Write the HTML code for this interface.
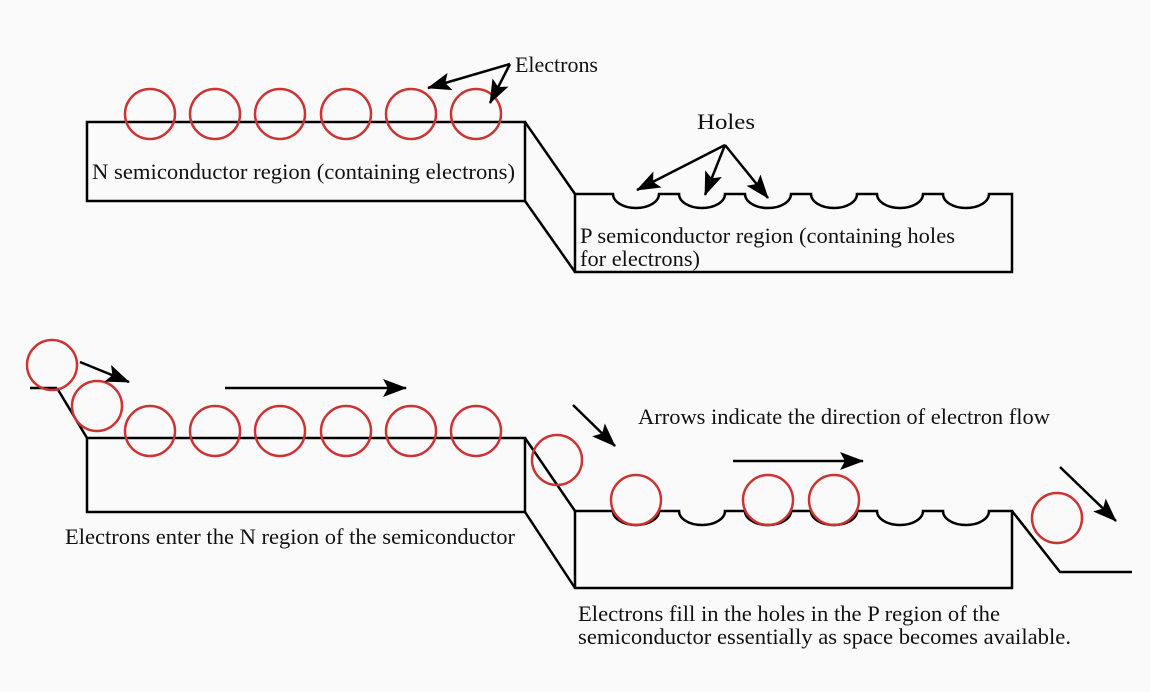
<!DOCTYPE html>
<html><head><style>
body{margin:0;background:#fafafa;}
svg{display:block}
text{font-family:"Liberation Serif",serif;font-size:22px;fill:#111}
</style></head><body>
<svg width="1150" height="692" viewBox="0 0 1150 692">
<defs>
<marker id="b" markerWidth="24" markerHeight="18" refX="23" refY="9" orient="auto" markerUnits="userSpaceOnUse"><path d="M0,0 L24,9 L0,18 L5,9 z" fill="#000"/></marker></defs>
<rect width="1150" height="692" fill="#fafafa"/>
<g fill="none" stroke="#000" stroke-width="2.5">
<rect x="87" y="122" width="438" height="79"/>
<line x1="525" y1="122" x2="575" y2="194"/>
<line x1="525" y1="201" x2="575" y2="272"/>
<path d="M575,272 V194 H613 a23,14 0 0 0 46,0 H679 a23,14 0 0 0 46,0 H745 a23,14 0 0 0 46,0 H811 a23,14 0 0 0 46,0 H877 a23,14 0 0 0 46,0 H943 a23,14 0 0 0 46,0 H1012 V272 Z"/>
<line x1="30" y1="388" x2="57" y2="388"/>
<line x1="57" y1="388" x2="87" y2="438"/>
<rect x="87" y="438" width="438" height="74"/>
<line x1="525" y1="438" x2="575" y2="511"/>
<line x1="525" y1="512" x2="575" y2="588"/>
<path d="M575,588 V511 H613 a23,14 0 0 0 46,0 H679 a23,14 0 0 0 46,0 H745 a23,14 0 0 0 46,0 H811 a23,14 0 0 0 46,0 H877 a23,14 0 0 0 46,0 H943 a23,14 0 0 0 46,0 H1012 V588 Z"/>
<polyline points="1012,511 1060,572 1132,572"/>
</g>
<g fill="none" stroke="#cc3333" stroke-width="2.5">
<circle cx="150" cy="114" r="25"/><circle cx="215" cy="114" r="25"/><circle cx="280" cy="114" r="25"/><circle cx="346" cy="114" r="25"/><circle cx="411" cy="114" r="25"/><circle cx="476" cy="114" r="25"/>
<circle cx="52" cy="365" r="25"/><circle cx="97" cy="406" r="25"/>
<circle cx="150" cy="431" r="25"/><circle cx="215" cy="431" r="25"/><circle cx="280" cy="431" r="25"/><circle cx="346" cy="431" r="25"/><circle cx="411" cy="431" r="25"/><circle cx="476" cy="431" r="25"/>
<circle cx="557" cy="460" r="25"/><circle cx="636" cy="500" r="25"/><circle cx="768" cy="500" r="25"/><circle cx="834" cy="500" r="25"/>
<circle cx="1057" cy="518" r="25"/>
</g>
<g stroke="#000" stroke-width="2.5" fill="none">
<line x1="510" y1="64" x2="428" y2="88" marker-end="url(#b)"/>
<line x1="510" y1="64" x2="490" y2="103" marker-end="url(#b)"/>
<line x1="725" y1="145" x2="637" y2="190" marker-end="url(#b)"/>
<line x1="725" y1="145" x2="705" y2="195" marker-end="url(#b)"/>
<line x1="725" y1="145" x2="768" y2="198" marker-end="url(#b)"/>
<line x1="80" y1="362" x2="129" y2="382" marker-end="url(#b)"/>
<line x1="225" y1="388" x2="406" y2="388" marker-end="url(#b)"/>
<line x1="573" y1="405" x2="615" y2="446" marker-end="url(#b)"/>
<line x1="733" y1="461" x2="863" y2="461" marker-end="url(#b)"/>
<line x1="1060" y1="467" x2="1116" y2="521" marker-end="url(#b)"/>
</g>
<text x="515" y="72" textLength="83" lengthAdjust="spacingAndGlyphs">Electrons</text>
<text x="697" y="129" textLength="58" lengthAdjust="spacingAndGlyphs">Holes</text>
<text x="92" y="179" textLength="423" lengthAdjust="spacingAndGlyphs">N semiconductor region (containing electrons)</text>
<text x="580" y="243" textLength="375" lengthAdjust="spacingAndGlyphs">P semiconductor region (containing holes</text>
<text x="580" y="266" textLength="120" lengthAdjust="spacingAndGlyphs">for electrons)</text>
<text x="638" y="424" textLength="412" lengthAdjust="spacingAndGlyphs">Arrows indicate the direction of electron flow</text>
<text x="65" y="544" textLength="450" lengthAdjust="spacingAndGlyphs">Electrons enter the N region of the semiconductor</text>
<text x="578" y="621" textLength="422" lengthAdjust="spacingAndGlyphs">Electrons fill in the holes in the P region of the</text>
<text x="578" y="644" textLength="493" lengthAdjust="spacingAndGlyphs">semiconductor essentially as space becomes available.</text>
</svg>
</body></html>
